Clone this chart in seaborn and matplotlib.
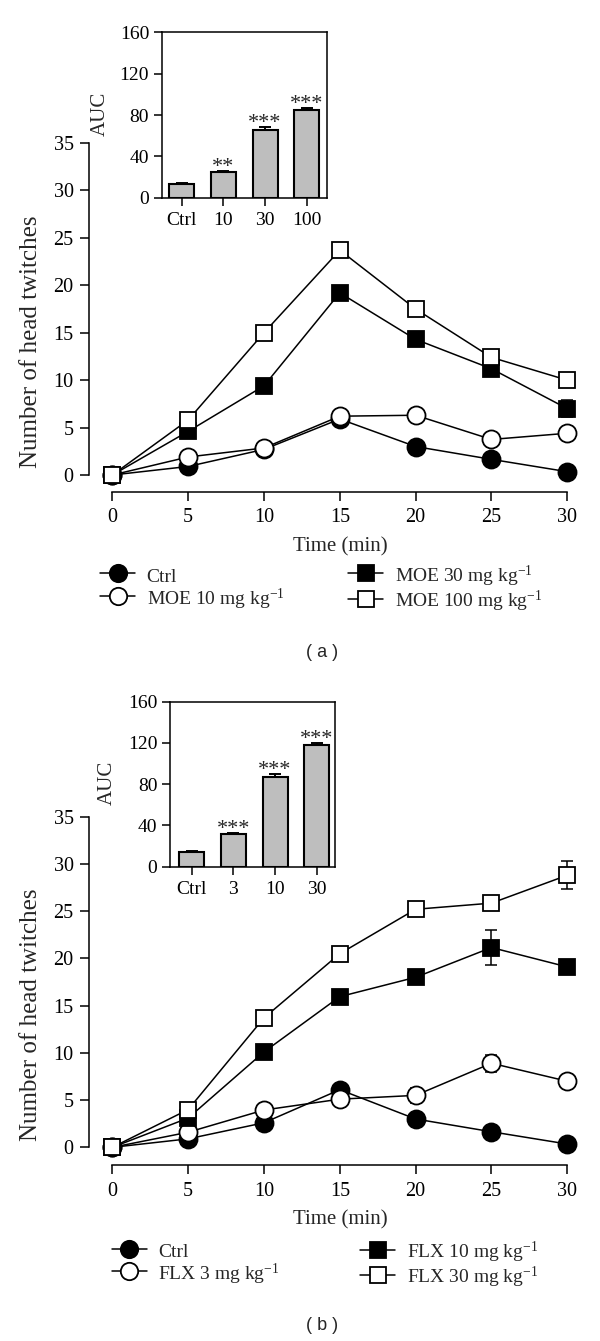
import numpy as np
import pandas as pd
import matplotlib
matplotlib.use('Agg')
import matplotlib.pyplot as plt
import seaborn as sns
from matplotlib.lines import Line2D

# time course (min)
time = [0, 5, 10, 15, 20, 25, 30]

# panel (a): MOE
a_ctrl = [0, 0.9, 2.7, 5.9, 3.0, 1.65, 0.35]
a_ctrl_err = [0, 0.3, 0.3, 0.4, 0.4, 0.3, 0.2]
a_moe10 = [0, 1.9, 2.85, 6.2, 6.3, 3.75, 4.4]
a_moe10_err = [0, 0.3, 0.3, 0.4, 0.4, 0.4, 0.5]
a_moe30 = [0, 4.6, 9.4, 19.2, 14.3, 11.2, 7.0]
a_moe30_err = [0, 0.4, 0.5, 0.7, 0.5, 0.8, 0.9]
a_moe100 = [0, 5.8, 15.0, 23.7, 17.5, 12.4, 10.0]
a_moe100_err = [0, 0.4, 0.6, 0.4, 0.6, 0.5, 0.7]
a_labels = ['Ctrl', 'MOE 10 mg kg$^{-1}$', 'MOE 30 mg kg$^{-1}$', 'MOE 100 mg kg$^{-1}$']

auc_a_cats = ['Ctrl', '10', '30', '100']
auc_a = [13, 24.5, 65.5, 84.5]
auc_a_err = [1.5, 1.8, 2.5, 2.0]
auc_a_stars = ['', '**', '***', '***']

# panel (b): FLX
b_ctrl = [0, 0.9, 2.6, 6.1, 3.0, 1.65, 0.35]
b_ctrl_err = [0, 0.3, 0.3, 0.4, 0.4, 0.3, 0.2]
b_flx3 = [0, 1.6, 3.95, 5.1, 5.5, 8.9, 7.0]
b_flx3_err = [0, 0.3, 0.4, 0.4, 0.8, 0.9, 0.5]
b_flx10 = [0, 3.1, 10.1, 15.95, 18.0, 21.15, 19.1]
b_flx10_err = [0, 0.4, 0.5, 0.4, 0.6, 1.85, 0.6]
b_flx30 = [0, 4.0, 13.7, 20.5, 25.2, 25.85, 28.8]
b_flx30_err = [0, 0.4, 0.6, 0.5, 0.5, 0.6, 1.5]
b_labels = ['Ctrl', 'FLX 3 mg kg$^{-1}$', 'FLX 10 mg kg$^{-1}$', 'FLX 30 mg kg$^{-1}$']

auc_b_cats = ['Ctrl', '3', '10', '30']
auc_b = [14, 31.5, 87, 118]
auc_b_err = [1.5, 1.5, 3.0, 1.5]
auc_b_stars = ['', '***', '***', '***']

sns.set_style('ticks')
plt.rcParams['font.family'] = ['Liberation Serif', 'DejaVu Serif']
plt.rcParams['mathtext.fontset'] = 'custom'
plt.rcParams['mathtext.rm'] = 'Liberation Serif'
plt.rcParams['mathtext.it'] = 'Liberation Serif:italic'
plt.rcParams['axes.linewidth'] = 1.1
plt.rcParams['xtick.major.width'] = 1.1
plt.rcParams['ytick.major.width'] = 1.1
plt.rcParams['xtick.color'] = 'black'
plt.rcParams['ytick.color'] = 'black'
plt.rcParams['axes.edgecolor'] = 'black'

W, H = 600, 1341
fig = plt.figure(figsize=(W / 100, H / 100), dpi=100)


def px_axes(x0, y0, x1, y1):
    return fig.add_axes([x0 / W, 1 - y1 / H, (x1 - x0) / W, (y1 - y0) / H])


styles = [('o', 'black', 13), ('o', 'white', 13), ('s', 'black', 12), ('s', 'white', 12)]


def main_panel(ax, series, errs, ylo):
    for i, (y, e) in enumerate(zip(series, errs)):
        m, fc, ms = styles[i]
        ax.errorbar(time, y, yerr=e, fmt='none', ecolor='black', elinewidth=1.1,
                    capsize=4, capthick=1.1, zorder=2 + i)
        sns.lineplot(x=time, y=y, ax=ax, color='black', lw=1.1, marker=m,
                     markersize=ms, markerfacecolor=fc, markeredgecolor='black',
                     markeredgewidth=1.3, zorder=2.5 + i, clip_on=False)
    ax.set_xlim(-1.54, 31.5)
    ax.set_ylim(ylo, 35)
    ax.set_xticks(time)
    ax.set_yticks(range(0, 36, 5))
    ax.spines['top'].set_visible(False)
    ax.spines['right'].set_visible(False)
    ax.spines['left'].set_bounds(0, 35)
    ax.spines['bottom'].set_bounds(0, 30)
    ax.tick_params(direction='out', length=6.5, labelsize=14.5)
    ax.tick_params(axis='x', pad=5.5)
    ax.tick_params(axis='y', pad=4.5)
    ax.set_xlabel('')
    ax.set_ylabel('')
    ax.patch.set_alpha(0)


def inset_panel(ax, cats, vals, errs, stars, xlim):
    sns.barplot(x=cats, y=vals, ax=ax, color='#bebebe', saturation=1,
                edgecolor='black', linewidth=1.5, width=0.6, errorbar=None)
    ax.errorbar(range(len(cats)), vals, yerr=[[0] * len(cats), errs], fmt='none',
                ecolor='black', elinewidth=1.4, capsize=4, capthick=1.4, zorder=3)
    for i, s in enumerate(stars):
        if s:
            ax.text(i, vals[i] + errs[i] - 1, s, ha='center', va='baseline', fontsize=16)
    ax.set_xlim(*xlim)
    ax.set_ylim(0, 160)
    ax.set_yticks([0, 40, 80, 120, 160])
    ax.tick_params(direction='out', length=5.5, labelsize=14)
    ax.tick_params(axis='x', pad=5)
    ax.tick_params(axis='y', pad=3.5)
    ax.set_xlabel('')
    ax.set_ylabel('')


def legend_col(labels, idx, x, y, hh):
    handles = []
    for i in idx:
        m, fc, ms = styles[i]
        handles.append(Line2D([], [], color='black', lw=1.1, marker=m, markersize=ms - 0.5,
                              markerfacecolor=fc, markeredgecolor='black',
                              markeredgewidth=1.3, label=labels[i]))
    leg = fig.legend(handles=handles, loc='upper left',
                     bbox_to_anchor=(x / W, 1 - y / H), frameon=False, fontsize=14,
                     handlelength=1.8, handletextpad=0.6, handleheight=hh,
                     labelspacing=0, borderpad=0, borderaxespad=0)
    return leg


# ---- panel (a)
ax_a = px_axes(89, 143, 590, 491.7)
main_panel(ax_a, [a_ctrl, a_moe10, a_moe30, a_moe100],
           [a_ctrl_err, a_moe10_err, a_moe30_err, a_moe100_err], -1.76)
ins_a = px_axes(161.7, 32.3, 326.7, 197.7)
inset_panel(ins_a, auc_a_cats, auc_a, auc_a_err, auc_a_stars, (-0.48, 3.48))

fig.text(30.7 / W, 1 - 342 / H, 'Number of head twitches', rotation=90,
         ha='center', va='center', fontsize=18)
fig.text(100 / W, 1 - 114 / H, 'AUC', rotation=90, ha='center', va='center', fontsize=15)
fig.text(340 / W, 1 - 546.7 / H, 'Time (min)', ha='center', va='center', fontsize=15)
legend_col(a_labels, [0, 1], 100, 564, 1.4)
legend_col(a_labels, [2, 3], 348, 564, 1.4)
fig.text(321.7 / W, 1 - 653 / H, '( a )', family='Liberation Sans',
         ha='center', va='center', fontsize=13)

# ---- panel (b)
ax_b = px_axes(89, 816.7, 590, 1165)
main_panel(ax_b, [b_ctrl, b_flx3, b_flx10, b_flx30],
           [b_ctrl_err, b_flx3_err, b_flx10_err, b_flx30_err], -1.87)
ins_b = px_axes(170, 701.7, 335, 866.7)
inset_panel(ins_b, auc_b_cats, auc_b, auc_b_err, auc_b_stars, (-0.52, 3.44))

fig.text(30.7 / W, 1 - 1015 / H, 'Number of head twitches', rotation=90,
         ha='center', va='center', fontsize=18)
fig.text(107.5 / W, 1 - 783 / H, 'AUC', rotation=90, ha='center', va='center', fontsize=15)
fig.text(340 / W, 1 - 1220 / H, 'Time (min)', ha='center', va='center', fontsize=15)
legend_col(b_labels, [0, 1], 111.7, 1240, 1.35)
legend_col(b_labels, [2, 3], 360, 1240, 1.35)
fig.text(321.7 / W, 1 - 1325 / H, '( b )', family='Liberation Sans',
         ha='center', va='center', fontsize=13)

fig.savefig('out.png', dpi=100)
